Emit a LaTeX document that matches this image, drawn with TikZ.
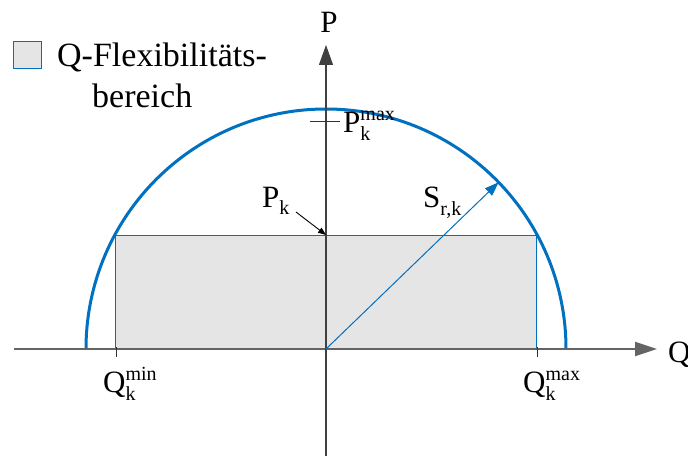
\documentclass[tikz,border=0pt]{standalone}
\usepackage{fontspec}
\setmainfont{Liberation Serif}
\usetikzlibrary{arrows.meta,calc}
\definecolor{curveblue}{RGB}{0,112,192}
\definecolor{areagray}{RGB}{229,229,229}
\definecolor{axisgray}{RGB}{100,100,100}
\newcommand{\subfnt}{\fontsize{20}{20}\selectfont}
\newcommand{\lblsub}[1]{\raisebox{-7pt}{\subfnt #1}}
\newcommand{\lblss}[2]{\mbox{\subfnt\rlap{\raisebox{-8pt}{#2}}\raisebox{12pt}{#1}}}
\begin{document}
\begin{tikzpicture}[x=1pt,y=1pt,
  lbl/.style={inner sep=0pt, anchor=base west, font=\fontsize{31}{31}\selectfont},
  legtext/.style={inner sep=0pt, anchor=base west, font=\fontsize{34}{34}\selectfont},
  axisline/.style={draw=axisgray, -{Triangle[length=22pt,width=14pt]}},
  ticks/.style={draw=black!80, line width=1pt},
  boundary/.style={draw=curveblue, line width=3pt},
  area/.style={draw=curveblue, fill=areagray, line width=1pt}]
\useasboundingbox (0,0) rectangle (688,456);
% coordinates
\coordinate (O) at (326,107);
\coordinate (xs) at (14,107);
\coordinate (xe) at (657,107);
\coordinate (ys) at (326,0);
\coordinate (ye) at (326,411);
\coordinate (Pk) at (326,221);
\coordinate (Pks) at (296,244);
\coordinate (Sr) at ($(O)+(44:240)$);
% area
\draw[area] (115.5,107) rectangle (536.5,221);
% boundary circle
\draw[boundary] (566,107) arc[start angle=0, end angle=180, radius=240];
% axes
\draw[axisline, line width=2pt] (xs) -- (xe);
\draw[axisline, line width=1.2pt, draw=black!75, -{Triangle[length=20pt,width=14pt]}] (ys) -- (ye);
% ticks
\draw[ticks] (310,334) -- (340,334);
\draw[ticks] (116,109) -- (116,99);
\draw[ticks] (537,109) -- (537,99);
% S arrow
\draw[curveblue, line width=1pt, -{Triangle[length=14pt,width=10pt]}] (O) -- (Sr);
% Pk arrow
\draw[black, line width=0.9pt, -{Triangle[length=8pt,width=6pt]}] (Pks) -- (Pk);
% labels
\node[lbl, anchor=base] (lP) at (329,423) {P};
\node[lbl] (lQ) at (668,94) {Q};
\node[lbl] (lPmax) at (343,323) {P\lblss{max}{k}};
\node[lbl] (lPk) at (262,249) {P\lblsub{k}};
\node[lbl] (lS) at (423,248) {S\lblsub{r,k}};
\node[lbl] (lQmax) at (523,64) {Q\lblss{max}{k}};
\node[lbl] (lQmin) at (103,64) {Q\lblss{min}{k}};
% legend
\node[draw=curveblue, fill=areagray, line width=1pt, minimum width=28pt, minimum height=27pt, inner sep=0pt] (legbox) at (27,400.5) {};
\node[legtext] (leg1) at (57,389) {Q-Flexibilitäts-};
\node[legtext] (leg2) at (92,348) {bereich};
\end{tikzpicture}
\end{document}
